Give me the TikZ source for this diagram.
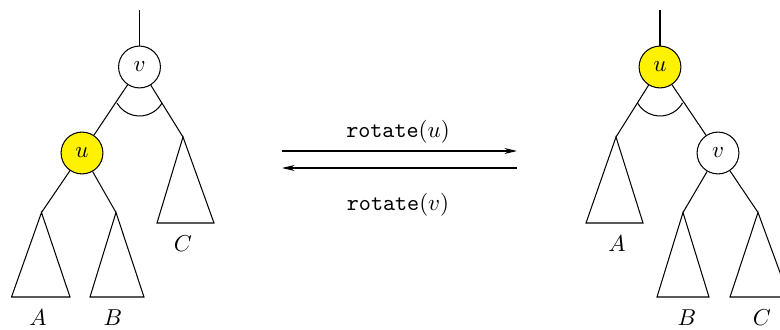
\documentclass[tikz,border=0pt]{standalone}
\usepackage{xcolor}
\usepackage{tikz}
\usetikzlibrary{arrows.meta}

\begin{document}
\begin{tikzpicture}[
    x=0.435pt, y=0.435pt,
    line width=0.45pt,
    vertex/.style={draw, circle, minimum size=18.2pt, inner sep=0pt},
    marked/.style={vertex, fill=yellow},
    arrow/.style={-{Stealth[length=5.5pt, width=2.6pt, inset=1.8pt]}},
    subname/.style={inner sep=0pt}
  ]
  \useasboundingbox (0,0) rectangle (780,329);
  \clip (0,0) rectangle (780,329);

  % left tree: v is the root
  \coordinate (ltop) at (139.5,319);
  \node[vertex] (lv) at (139.5,262) {$v$};
  \node[marked] (lu) at (82,176) {$u$};
  \coordinate (lA) at (41.5,116.5);
  \coordinate (lB) at (116,116.5);
  \coordinate (lC) at (183,192);

  \draw (ltop) -- (lv);
  \draw (lv) -- (lu);
  \draw (lv) -- (lC);
  \draw (lu) -- (lA);
  \draw (lu) -- (lB);
  \draw (139.5,239) ++(210:26) arc[start angle=210, end angle=330, radius=26];

  \draw (lA) -- (11.5,32) -- (70,32) -- cycle;
  \draw (lB) -- (90,32) -- (144,32) -- cycle;
  \draw (lC) -- (157,106) -- (214,106) -- cycle;
  \node[subname] (lAname) at (38,11) {$A$};
  \node[subname] (lBname) at (113,11) {$B$};
  \node[subname] (lCname) at (183,85) {$C$};

  % the two rotations
  \coordinate (r1) at (282,178);
  \coordinate (r2) at (517,178);
  \coordinate (s1) at (517,161);
  \coordinate (s2) at (282,161);
  \draw[arrow] (r1) -- (r2);
  \draw[arrow] (s1) -- (s2);
  \node (rotu) at (398,197) {\texttt{rotate}$(u)$};
  \node (rotv) at (398,124) {\texttt{rotate}$(v)$};

  % right tree: u is the root
  \coordinate (rtop) at (660,319);
  \node[marked] (ru) at (660,262) {$u$};
  \node[vertex] (rv) at (718,176) {$v$};
  \coordinate (rA) at (616,192);
  \coordinate (rB) at (683,116.5);
  \coordinate (rC) at (758,116.5);

  \draw (rtop) -- (ru);
  \draw (ru) -- (rA);
  \draw (ru) -- (rv);
  \draw (rv) -- (rB);
  \draw (rv) -- (rC);
  \draw (660,239) ++(210:26) arc[start angle=210, end angle=330, radius=26];

  \draw (rA) -- (586,106) -- (643,106) -- cycle;
  \draw (rB) -- (657,32) -- (709,32) -- cycle;
  \draw (rC) -- (730,32) -- (789,32) -- cycle;
  \node[subname] (rAname) at (617,85) {$A$};
  \node[subname] (rBname) at (687,11) {$B$};
  \node[subname] (rCname) at (762,11) {$C$};
\end{tikzpicture}
\end{document}
